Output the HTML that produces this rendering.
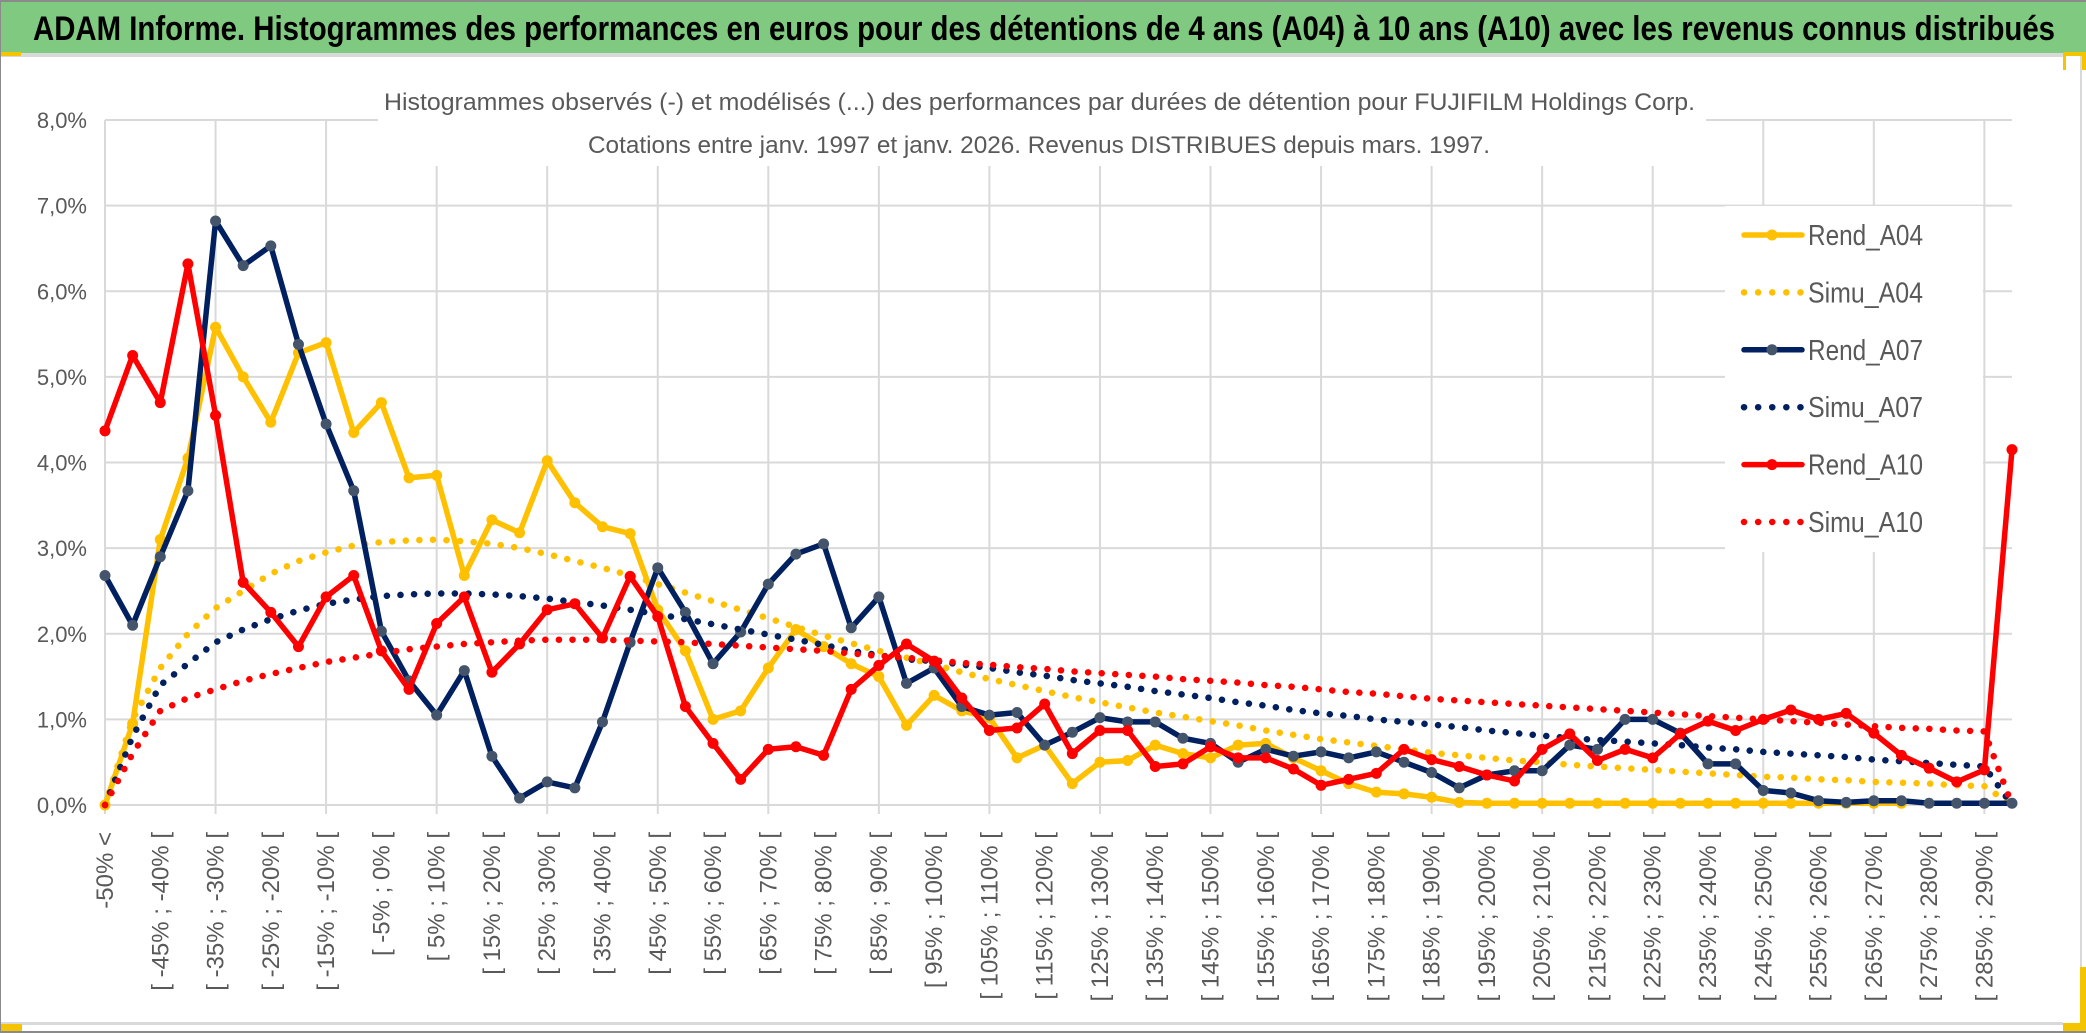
<!DOCTYPE html>
<html><head><meta charset="utf-8">
<style>
html,body{margin:0;padding:0;background:#fff;}
svg{display:block;}
</style></head>
<body>
<svg id="chart" width="2086" height="1033" viewBox="0 0 2086 1033" xmlns="http://www.w3.org/2000/svg">
  <rect x="0" y="0" width="2086" height="1033" fill="#ffffff"/>
  <rect x="0" y="0" width="2086" height="2" fill="#8a8a8a"/>
  <rect x="0" y="2" width="2086" height="51" fill="#80c981"/>
  <text x="33" y="40" font-family="'Liberation Sans Narrow','Liberation Sans',sans-serif" font-weight="bold" font-size="34" fill="#000" textLength="2022" lengthAdjust="spacingAndGlyphs">ADAM Informe. Histogrammes des performances en euros pour des détentions de 4 ans (A04) à 10 ans (A10) avec les revenus connus distribués</text>
  <rect x="0" y="53" width="2086" height="4" fill="#d9d9d9"/>
  <rect x="0" y="52" width="21" height="4" fill="#f5c400"/>
  <rect x="2063" y="52" width="23" height="18" fill="#f5c400"/>
  <rect x="2066" y="56" width="14" height="14" fill="#fff"/>
  <rect x="2080" y="56" width="2" height="967" fill="#d9d9d9"/>
  <rect x="2080" y="967" width="6" height="64" fill="#f5c400"/>
  <rect x="2063" y="1023" width="23" height="8" fill="#f5c400"/>
  <rect x="0" y="1022" width="2063" height="3" fill="#d9d9d9"/>
  <rect x="0" y="1024" width="22" height="7" fill="#f5c400"/>
  <rect x="0" y="1031" width="2086" height="2" fill="#8a8a8a"/>
  <rect x="0" y="0" width="1" height="1033" fill="#8a8a8a"/>
  <g id="grid"></g>
  <g id="ylabels"></g>
  <g id="xlabels"></g>
  <rect x="378" y="80" width="1328" height="86" fill="#fff"/>
  <text x="384" y="110" font-family="'Liberation Sans Narrow','Liberation Sans',sans-serif" font-size="24" fill="#595959" textLength="1311" lengthAdjust="spacingAndGlyphs">Histogrammes observés (-) et modélisés (...) des performances par durées de détention pour FUJIFILM Holdings Corp.</text>
  <text x="588" y="153" font-family="'Liberation Sans Narrow','Liberation Sans',sans-serif" font-size="24" fill="#595959" textLength="902" lengthAdjust="spacingAndGlyphs">Cotations entre janv. 1997 et janv. 2026. Revenus DISTRIBUES depuis mars. 1997.</text>
  <g id="series"></g>
  <g id="legend"></g>
</svg>
<script>
const categoryCount = 70;
const yTicks = [0, 1, 2, 3, 4, 5, 6, 7, 8];
const yTickLabels = ["0,0%","1,0%","2,0%","3,0%","4,0%","5,0%","6,0%","7,0%","8,0%"];
const xLabelIndexes = [0,2,4,6,8,10,12,14,16,18,20,22,24,26,28,30,32,34,36,38,40,42,44,46,48,50,52,54,56,58,60,62,64,66,68];
const xLabels = ["-50% <","[ -45% ; -40% [","[ -35% ; -30% [","[ -25% ; -20% [","[ -15% ; -10% [","[ -5% ; 0% [","[ 5% ; 10% [","[ 15% ; 20% [","[ 25% ; 30% [","[ 35% ; 40% [","[ 45% ; 50% [","[ 55% ; 60% [","[ 65% ; 70% [","[ 75% ; 80% [","[ 85% ; 90% [","[ 95% ; 100% [","[ 105% ; 110% [","[ 115% ; 120% [","[ 125% ; 130% [","[ 135% ; 140% [","[ 145% ; 150% [","[ 155% ; 160% [","[ 165% ; 170% [","[ 175% ; 180% [","[ 185% ; 190% [","[ 195% ; 200% [","[ 205% ; 210% [","[ 215% ; 220% [","[ 225% ; 230% [","[ 235% ; 240% [","[ 245% ; 250% [","[ 255% ; 260% [","[ 265% ; 270% [","[ 275% ; 280% [","[ 285% ; 290% ["];

const rendA04 = [0,0.95,3.1,4.05,5.58,5.0,4.47,5.28,5.4,4.35,4.7,3.82,3.85,2.68,3.33,3.18,4.02,3.53,3.25,3.17,2.28,1.8,1.0,1.1,1.6,2.05,1.85,1.65,1.5,0.93,1.28,1.1,1.02,0.55,0.7,0.25,0.5,0.52,0.7,0.6,0.55,0.7,0.72,0.55,0.4,0.25,0.15,0.13,0.09,0.03,0.02,0.02,0.02,0.02,0.02,0.02,0.02,0.02,0.02,0.02,0.02,0.02,0.02,0.02,0.02,0.02,null,null,null,null];
const rendA07 = [2.68,2.1,2.9,3.67,6.82,6.3,6.53,5.38,4.45,3.67,2.03,1.45,1.05,1.57,0.57,0.08,0.27,0.2,0.97,1.9,2.77,2.25,1.65,2.02,2.58,2.93,3.05,2.07,2.43,1.42,1.6,1.15,1.05,1.08,0.7,0.85,1.02,0.97,0.97,0.78,0.72,0.5,0.65,0.57,0.62,0.55,0.62,0.5,0.38,0.2,0.35,0.4,0.4,0.7,0.65,1.0,1.0,0.84,0.48,0.48,0.17,0.14,0.05,0.03,0.05,0.05,0.02,0.02,0.02,0.02];
const rendA10 = [4.37,5.25,4.7,6.32,4.55,2.6,2.25,1.85,2.43,2.68,1.8,1.35,2.12,2.43,1.55,1.88,2.28,2.35,1.95,2.67,2.2,1.15,0.72,0.3,0.65,0.68,0.58,1.35,1.63,1.88,1.68,1.25,0.87,0.9,1.18,0.6,0.87,0.87,0.45,0.48,0.68,0.55,0.55,0.42,0.23,0.3,0.37,0.65,0.53,0.45,0.35,0.28,0.65,0.83,0.52,0.65,0.55,0.83,0.98,0.87,1.0,1.11,1.0,1.07,0.84,0.58,0.43,0.27,0.41,4.15];
const simuA04 = [0,1.0,1.6,2.0,2.3,2.5,2.7,2.85,2.95,3.03,3.07,3.09,3.1,3.08,3.05,3.0,2.93,2.85,2.77,2.68,2.58,2.48,2.38,2.28,2.18,2.08,1.98,1.89,1.8,1.72,1.64,1.55,1.47,1.4,1.33,1.26,1.2,1.14,1.08,1.03,0.98,0.93,0.87,0.82,0.77,0.73,0.69,0.65,0.61,0.58,0.55,0.52,0.5,0.47,0.45,0.43,0.41,0.39,0.37,0.35,0.33,0.32,0.3,0.29,0.27,0.26,0.25,0.23,0.22,0];
const simuA07 = [0,0.8,1.4,1.65,1.9,2.05,2.17,2.27,2.35,2.4,2.44,2.46,2.47,2.47,2.46,2.44,2.41,2.37,2.33,2.28,2.23,2.17,2.11,2.05,1.99,1.93,1.87,1.8,1.75,1.7,1.68,1.64,1.6,1.55,1.51,1.46,1.42,1.38,1.33,1.29,1.25,1.2,1.16,1.11,1.07,1.04,1.0,0.97,0.94,0.91,0.87,0.84,0.81,0.78,0.76,0.74,0.72,0.7,0.67,0.65,0.62,0.6,0.58,0.56,0.53,0.51,0.49,0.47,0.45,0];
const simuA10 = [0,0.6,1.1,1.25,1.35,1.45,1.53,1.6,1.67,1.72,1.77,1.82,1.85,1.88,1.9,1.92,1.93,1.93,1.93,1.92,1.91,1.9,1.88,1.86,1.84,1.82,1.8,1.77,1.74,1.72,1.69,1.66,1.64,1.61,1.59,1.56,1.54,1.52,1.5,1.47,1.45,1.43,1.4,1.38,1.35,1.32,1.3,1.27,1.24,1.22,1.2,1.18,1.16,1.14,1.12,1.1,1.08,1.06,1.04,1.02,1.0,0.98,0.96,0.94,0.92,0.9,0.89,0.87,0.86,0];

const seriesNames = ["Rend_A04","Simu_A04","Rend_A07","Simu_A07","Rend_A10","Simu_A10"];

const NS = "http://www.w3.org/2000/svg";
const plotLeft = 105, plotRight = 2012, yZero = 805, yTop = 120;
function xScale(i){ return plotLeft + (plotRight - plotLeft) * i / (categoryCount - 1); }
function yScale(v){ return yZero - (yZero - yTop) * v / 8; }
function mk(tag, attrs, parent){
  const e = document.createElementNS(NS, tag);
  for (const k in attrs) e.setAttribute(k, attrs[k]);
  parent.appendChild(e);
  return e;
}

const grid = document.getElementById('grid');
yTicks.forEach(function(t){
  const l = mk('line', {x1: plotLeft, x2: plotRight, y1: yScale(t), y2: yScale(t), stroke: '#d9d9d9', 'stroke-width': 2}, grid);
  
  
});
for (let i = 0; i < categoryCount; i += 4) {
  const l = mk('line', {x1: xScale(i), x2: xScale(i), y1: yScale(8), y2: yZero + 9, stroke: '#d9d9d9', 'stroke-width': 2}, grid);
  
  
}

const yl = document.getElementById('ylabels');
yTicks.forEach(function(t, k){
  const tx = mk('text', {x: 87, y: yScale(t) + 8, 'text-anchor': 'end', 'font-family': "'Liberation Sans Narrow','Liberation Sans',sans-serif", 'font-size': 22, fill: '#595959'}, yl);
  tx.textContent = yTickLabels[k];
  
  
});

const xl = document.getElementById('xlabels');
xLabelIndexes.forEach(function(idx, k){
  const x = xScale(idx) + 8, y = 832;
  const tx = mk('text', {x: x, y: y, 'text-anchor': 'end', transform: 'rotate(-90 ' + x + ' ' + y + ')', 'font-family': "'Liberation Sans',sans-serif", 'font-size': 24, fill: '#595959'}, xl);
  tx.textContent = xLabels[k];
  
  
});

const seriesG = document.getElementById('series');
function drawSolid(vals, color, markerColor, name){
  const g = mk('g', {}, seriesG);
  
  
  let d = '';
  vals.forEach(function(v, i){
    if (v === null) return;
    d += (d === '' ? 'M' : 'L') + xScale(i).toFixed(1) + ' ' + yScale(v).toFixed(1);
  });
  const p = mk('path', {d: d, fill: 'none', stroke: color, 'stroke-width': 5.5, 'stroke-linejoin': 'round', 'stroke-linecap': 'round'}, g);
  
  
  vals.forEach(function(v, i){
    if (v === null) return;
    const c = mk('circle', {cx: xScale(i), cy: yScale(v), r: 5.5, fill: markerColor}, g);
    
    
  });
}
function drawDotted(vals, color, name){
  let d = '';
  vals.forEach(function(v, i){
    d += (i === 0 ? 'M' : 'L') + xScale(i).toFixed(1) + ' ' + yScale(v).toFixed(1);
  });
  const p = mk('path', {d: d, fill: 'none', stroke: color, 'stroke-width': 6.5, 'stroke-dasharray': '0.1 13.5', 'stroke-linecap': 'round', 'stroke-linejoin': 'round'}, seriesG);
  
  
}
drawSolid(rendA04, '#ffc000', '#ffc000', 'rend-a04');
drawDotted(simuA04, '#ffc000', 'simu-a04');
drawSolid(rendA07, '#002060', '#44546a', 'rend-a07');
drawDotted(simuA07, '#002060', 'simu-a07');
drawSolid(rendA10, '#ff0000', '#ff0000', 'rend-a10');
drawDotted(simuA10, '#ff0000', 'simu-a10');

const legend = document.getElementById('legend');
const lbg = mk('rect', {x: 1725, y: 206, width: 258, height: 346, fill: '#fff'}, legend);


const legendColors = ['#ffc000','#ffc000','#002060','#002060','#ff0000','#ff0000'];
const legendMarkers = ['#ffc000', null, '#44546a', null, '#ff0000', null];
seriesNames.forEach(function(n, k){
  const base = 245 + k * 57.4;
  const cy = base - 10;
  const g = mk('g', {}, legend);
  
  
  if (legendMarkers[k]) {
    mk('line', {x1: 1744, x2: 1802, y1: cy, y2: cy, stroke: legendColors[k], 'stroke-width': 5.5, 'stroke-linecap': 'round'}, g);
    mk('circle', {cx: 1772, cy: cy, r: 5.5, fill: legendMarkers[k]}, g);
  } else {
    mk('line', {x1: 1744, x2: 1802, y1: cy, y2: cy, stroke: legendColors[k], 'stroke-width': 6.5, 'stroke-dasharray': '0.1 14', 'stroke-linecap': 'round'}, g);
  }
  const tx = mk('text', {x: 1808, y: base, 'font-family': "'Liberation Sans Narrow','Liberation Sans',sans-serif", 'font-size': 29, fill: '#595959', textLength: 115, lengthAdjust: 'spacingAndGlyphs'}, g);
  tx.textContent = n;
  
  
});
</script>
</body></html>
